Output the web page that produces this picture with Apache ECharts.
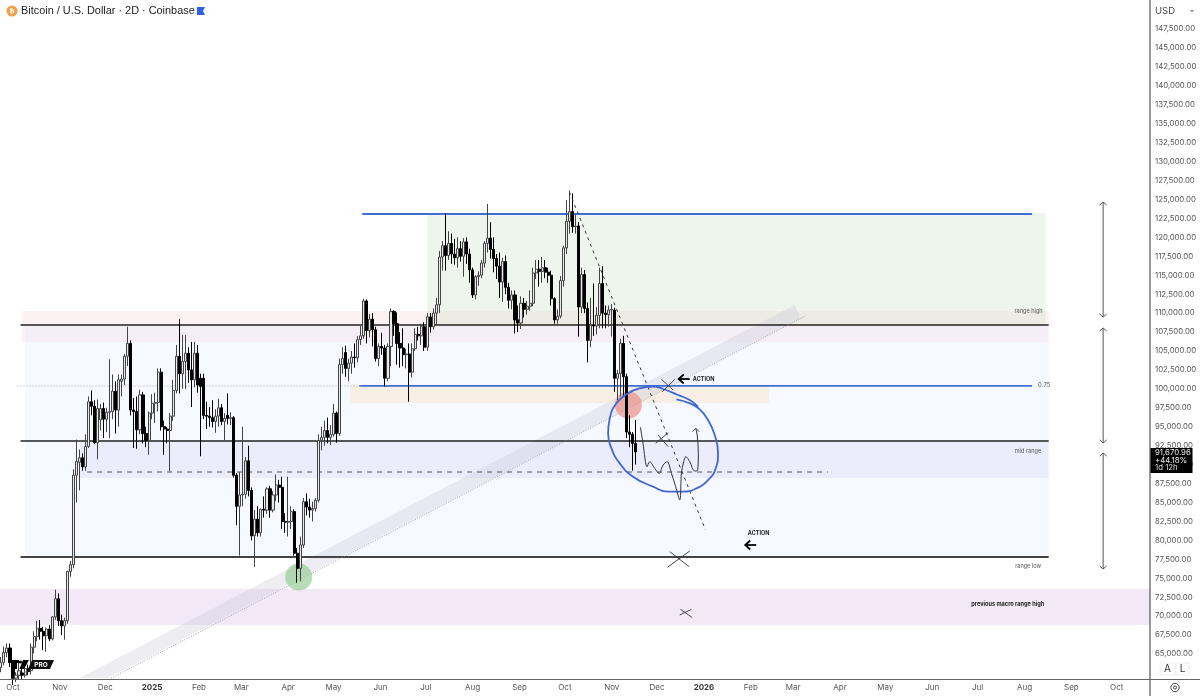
<!DOCTYPE html>
<html>
<head>
<meta charset="utf-8">
<title>BTC 2D</title>
<script src="https://cdn.jsdelivr.net/npm/echarts@6/dist/echarts.min.js"></script>
<style>
  html, body { margin: 0; padding: 0; background: #fff; }
  #main { width: 1200px; height: 696px; }
</style>
</head>
<body>
<div id="main"></div>
<script>
// candles, 2 days apart, in thousands of USD
const firstCandle = '2024-09-23';
const opens = [
  63.2,63.9,65.2,65.8,63.9,61.8,62.2,62.5,62.2,63.1,
  62.8,65.9,67.3,68.4,68.0,67.4,68.3,67.0,69.9,72.3,
  69.4,68.7,69.4,75.9,76.8,88.6,90.3,90.9,89.7,92.4,
  98.3,97.7,92.9,95.9,97.4,96.0,96.9,97.0,99.7,97.2,
  101.0,101.3,104.3,106.0,97.2,97.0,94.6,99.2,94.1,93.2,
  96.8,98.1,98.2,102.2,95.0,94.7,94.5,96.4,99.8,104.3,
  102.0,103.6,104.7,102.5,101.2,104.7,101.4,101.4,96.5,96.4,
  96.2,95.7,96.4,97.5,95.7,96.5,96.1,96.2,88.6,84.5,
  86.0,86.1,90.5,86.6,80.6,82.8,81.0,84.1,84.0,86.8,
  84.0,86.0,87.3,87.0,82.5,82.4,82.5,83.8,78.3,76.3,
  79.4,85.1,84.4,84.0,84.2,85.3,93.2,93.6,94.5,93.6,
  94.0,96.8,94.1,103.2,104.8,102.7,103.4,104.2,104.1,106.5,
  107.0,111.6,107.7,109.2,107.8,104.0,105.6,105.4,101.4,105.6,
  110.2,108.6,106.0,105.4,104.5,104.6,102.2,105.3,107.2,107.0,
  108.2,105.5,109.5,108.2,110.0,111.1,117.4,118.9,117.6,119.2,
  117.8,117.3,118.5,117.5,119.4,117.8,115.7,112.4,114.8,115.0,
  116.6,119.2,119.9,118.4,117.2,116.2,114.1,116.8,113.4,111.7,
  112.4,109.1,108.7,111.3,110.5,110.9,111.3,115.3,115.8,115.5,
  116.0,115.4,115.0,111.9,109.1,109.6,114.3,118.6,122.1,123.4,
  121.4,121.5,110.8,115.1,110.6,106.4,108.4,108.3,109.7,113.9,
  110.0,109.8,110.4,110.4,101.4,102.0,106.0,101.6,94.3,94.0,
  92.8
];
const closes = [
  63.9,65.2,65.8,63.9,61.8,62.2,62.8,62.2,63.1,62.7,
  65.9,67.3,68.4,68.0,67.4,68.3,67.0,69.9,72.3,69.4,
  68.7,69.4,75.9,76.8,88.6,90.4,90.9,89.7,92.4,98.3,
  97.7,92.9,97.4,97.4,96.0,96.9,97.0,99.7,97.2,101.2,
  101.3,104.3,106.0,97.2,97.0,94.6,99.2,94.1,93.2,96.8,
  98.1,98.2,102.2,95.0,94.7,94.5,96.4,99.8,104.3,102.0,
  103.6,104.7,102.5,101.2,104.7,100.5,100.3,96.5,96.4,96.2,
  95.7,96.4,97.5,95.7,96.1,96.1,96.2,88.6,84.5,86.0,
  86.1,90.5,86.6,80.6,82.8,81.0,84.1,84.0,86.8,84.0,
  86.0,87.3,87.0,82.5,82.4,82.5,83.8,78.3,76.3,79.4,
  85.1,84.4,84.0,84.2,85.3,93.2,93.6,94.5,93.6,94.0,
  96.8,94.1,103.2,104.0,102.7,103.4,104.2,104.1,106.5,107.0,
  111.6,107.7,109.2,107.8,104.0,105.6,105.4,101.4,105.6,110.2,
  108.6,106.0,105.4,104.5,104.6,102.2,105.3,107.2,107.0,108.2,
  105.5,109.5,108.2,110.0,111.1,117.4,118.9,117.6,119.2,117.8,
  117.3,118.5,117.5,119.4,117.8,115.7,112.4,114.8,115.0,116.6,
  119.2,119.9,118.4,117.2,116.2,114.1,116.8,113.4,111.7,112.4,
  109.1,108.7,111.3,110.5,110.9,111.3,115.3,115.8,115.5,116.0,
  115.4,115.0,111.9,109.1,109.6,114.3,118.6,122.1,123.4,121.4,
  121.5,110.8,115.1,110.6,106.4,108.4,108.3,109.7,113.9,110.0,
  109.8,110.4,110.5,101.4,102.0,106.0,101.6,94.3,94.0,92.8,
  91.67
];
const lows = [
  62.6,63.5,64.6,63.3,60.9,61.3,61.7,61.7,61.9,62.2,
  62.3,65.1,66.7,66.9,65.5,65.3,66.7,66.8,69.5,68.7,
  67.5,66.9,69.0,75.2,76.3,85.0,86.6,89.2,89.2,92.2,
  96.5,92.7,90.7,94.5,93.5,94.3,93.5,96.0,94.1,95.0,
  99.0,100.5,103.0,96.5,92.2,92.1,94.0,92.8,92.3,91.3,
  96.0,95.5,97.0,94.5,91.3,92.8,89.1,95.8,99.4,99.4,
  100.0,100.0,100.8,97.6,100.2,99.5,91.1,96.0,94.7,95.0,
  94.9,94.2,95.0,95.2,93.2,95.3,95.2,88.3,82.0,78.0,
  84.5,85.5,85.8,80.0,76.5,80.5,80.5,83.0,83.5,83.0,
  83.7,85.2,85.0,81.5,81.0,80.5,81.5,78.0,74.4,74.6,
  79.0,83.3,83.0,82.5,83.8,85.0,91.9,92.5,92.8,92.6,
  93.7,92.9,93.8,102.0,101.6,101.0,102.0,102.8,103.5,105.8,
  106.6,106.0,106.8,105.6,103.6,103.0,104.5,100.3,101.0,103.0,
  107.0,103.2,102.8,103.0,102.7,98.3,101.5,105.0,106.4,105.8,
  105.0,105.0,107.4,107.8,108.5,110.0,115.6,115.6,117.0,116.5,
  116.4,116.0,116.8,114.8,116.5,114.0,112.0,111.8,113.6,114.6,
  116.0,118.0,117.2,115.4,114.5,112.0,111.5,112.5,110.6,110.5,
  107.3,107.5,107.9,109.4,109.8,110.3,110.9,114.5,113.5,114.0,
  114.6,114.0,111.0,108.6,108.6,109.3,113.5,117.8,120.5,120.6,
  120.5,106.9,110.0,110.0,103.5,105.5,107.0,107.2,108.0,108.0,
  108.0,108.2,106.9,99.6,98.5,99.0,99.0,93.5,92.3,89.2,
  90.0
];
const highs = [
  64.6,66.0,66.4,66.4,64.2,62.6,64.0,63.2,63.4,63.6,
  66.4,68.0,69.4,69.5,68.6,68.5,68.8,70.0,73.5,73.0,
  70.2,69.8,76.0,77.3,89.4,93.3,92.0,91.5,94.0,99.0,
  99.8,98.5,98.6,98.0,98.2,97.5,103.9,101.9,101.0,101.9,
  101.9,104.6,108.2,106.4,98.8,99.0,99.9,99.6,95.0,97.0,
  99.3,99.5,102.7,102.7,95.8,95.0,96.8,101.2,105.8,109.2,
  107.1,107.1,105.5,106.2,106.2,105.8,102.0,102.0,98.3,97.6,
  98.5,97.3,98.7,98.0,96.8,99.4,96.9,96.4,88.9,89.0,
  95.0,91.0,92.5,87.0,84.0,84.5,84.2,85.8,87.0,87.2,
  86.5,88.7,88.0,88.4,83.6,88.4,84.5,84.1,79.0,80.5,
  85.6,86.2,85.5,85.1,85.6,94.0,95.0,95.8,96.2,95.2,
  98.0,97.0,104.0,105.5,105.7,104.0,105.0,106.0,107.0,108.3,
  111.9,111.8,109.9,110.0,108.2,106.0,107.4,105.8,106.0,110.6,
  110.4,110.1,107.5,108.0,105.3,106.0,106.0,108.0,108.2,108.6,
  108.8,110.0,110.0,110.6,112.0,118.2,119.5,123.2,120.8,120.5,
  119.8,120.0,119.5,119.9,120.0,118.5,116.0,115.0,115.5,117.0,
  119.5,124.4,122.0,120.0,117.8,118.0,117.3,117.6,114.0,113.0,
  113.0,111.0,112.2,112.0,111.6,113.0,116.0,117.0,117.0,117.4,
  117.0,116.0,115.6,112.1,110.5,114.9,118.9,124.9,126.2,125.8,
  123.0,122.0,116.0,115.7,111.4,112.0,113.9,110.8,116.0,116.2,
  111.0,111.0,111.2,110.7,102.5,106.6,107.0,102.0,96.5,94.3,
  95.9
];

// axis labels
const priceTicks = [
  147500,145000,142500,140000,137500,135000,132500,130000,127500,125000,
  122500,120000,117500,115000,112500,110000,107500,105000,102500,100000,
  97500,95000,92500,90000,87500,85000,82500,80000,77500,75000,
  72500,70000,67500,65000
];
const monthTicks = [
  '2024-10-01','2024-11-01','2024-12-01','2025-01-01','2025-02-01','2025-03-01','2025-04-01',
  '2025-05-01','2025-06-01','2025-07-01','2025-08-01','2025-09-01','2025-10-01','2025-11-01',
  '2025-12-01','2026-01-01','2026-02-01','2026-03-01','2026-04-01','2026-05-01','2026-06-01',
  '2026-07-01','2026-08-01','2026-09-01','2026-10-01'
];
const monthLabels = [
  'Oct','Nov','Dec','2025','Feb','Mar','Apr','May','Jun','Jul','Aug','Sep','Oct','Nov',
  'Dec','2026','Feb','Mar','Apr','May','Jun','Jul','Aug','Sep','Oct'
];

// shaded zones
const zoneNames = ['pink', 'blue', 'green', 'beige', 'mid', 'macro'];
const zoneStarts = ['2024-10-07','2024-10-09','2025-07-02','2025-05-12','2024-11-14','2024-09-01'];
const zoneEnds = ['2026-08-17','2026-08-17','2026-08-15','2026-02-13','2026-08-17','2026-12-01'];
const zoneTops = [110276,108296,123212,100376,93116,73580];
const zoneBottoms = [106184,77804,108428,98132,88232,68828];

// ruled lines
const blackLevels = [108428, 93116, 77804];
const blackStart = '2024-10-06';
const blackEnd = '2026-08-17';
const blueLevels = [123080, 100400];
const blueStarts = ['2025-05-20', '2025-05-18'];
const blueEnd = '2026-08-06';
const supportLevel = 89024;
const supportDates = ['2024-11-19', '2026-03-24'];
const dottedLevel = 100376;
const dottedDates = ['2024-10-04', '2025-05-19'];
const fallingLine = [['2025-10-04', 125984], ['2026-01-02', 81368]];
const risingLine = [['2024-12-05', 61832], ['2026-03-09', 109616]];
const risingBand = [['2024-11-14', 61832], ['2024-12-03', 61832], ['2026-03-06', 109352], ['2026-03-02', 111068]];

// highlighted touches
const touchDates = ['2025-11-12', '2025-04-08'];
const touchPrices = [97868, 75164];

// hand drawn marks: days after 2025-11-01, price
const sketchOrigin = '2025-11-01';
const blueLoop = [
  [42.8,98616],[51.6,98088],[58.2,97296],[63.7,95888],[68.1,93908],[70.3,91488],[68.8,89508],
  [63.7,87968],[56.0,86868],[47.2,86428],[37.3,86428],[27.4,87088],[14.1,88408],[5.3,90168],
  [-0.2,92148],[-2.4,94128],[-1.3,96108],[3.1,98088],[10.8,99408],[18.5,100068],[27.3,100288],
  [34.1,99980],[43.9,99188],[51.6,98528],[57.1,97648]
];
const scribble = [
  [19.0,94920],[20.7,92808],[23.4,89728],[25.1,90388],[28.4,89508],[31.3,88848],[34.0,89948],
  [36.6,90388],[39.5,88848],[42.3,87088],[45.0,85328],[46.1,88848],[47.6,90388],[49.0,91048],
  [51.6,90388],[54.9,89156],[56.9,89288],[57.3,91488],[56.5,93908],[55.6,94788]
];
const scribbleHead = [[53.4,94348],[55.6,94788],[57.8,94348]];
const crosses = [
  [[32.9,101256],[40.6,99848]], [[33.5,99628],[41.7,101256]],
  [[29.1,92808],[37.3,94216]], [[30.7,93908],[37.3,92368]],
  [[36.8,76440],[51.6,78596]], [[38.4,78508],[51.2,76528]],
  [[45.0,70148],[52.7,70896]], [[45.4,70896],[53.1,69840]]
];
const actionArrows = [[47.6,101300],[91.6,79388]];
const actionTexts = [[53.6,101300],[90.0,80972]];

// range arrows on the right
const rangeArrowDate = '2026-09-22';
const rangeArrowTops = [124664, 108032, 91532];
const rangeArrowBottoms = [109484, 92852, 76220];

// small notes
const noteTexts = ['range high', 'mid range', 'range low', 'previous macro range high'];
const noteDates = ['2026-08-13', '2026-08-12', '2026-08-12', '2026-08-14'];
const notePrices = [110276, 91796, 76616, 71600];
const fibText = '0.75';
const fibDate = '2026-08-10';
const fibPrice = 100508;

const DAY = 86400000;
const ms = (d) => Date.parse(d);
const sketchMs = (d) => ms(sketchOrigin) + d * DAY;
const sketchPts = (pts) => pts.map((p) => [sketchMs(p[0]), p[1]]);

const candleRows = opens.map((o, i) => [
  ms(firstCandle) + i * 2 * DAY, o * 1000, closes[i] * 1000, lows[i] * 1000, highs[i] * 1000
]);

const zoneColors = {
  pink: 'rgba(246,206,212,0.28)',
  blue: 'rgba(222,234,255,0.28)',
  green: 'rgba(208,228,204,0.36)',
  beige: 'rgba(248,232,206,0.55)',
  mid: 'rgba(222,218,246,0.38)',
  macro: 'rgba(243,233,246,1)'
};

const plainLine = (name, data, color, width, type, z, smooth) => ({
  name, type: 'line', data, z, smooth: smooth || false,
  symbol: 'none', silent: true, animation: false,
  lineStyle: { color, width, type: type || 'solid' }
});

const chart = echarts.init(document.getElementById('main'), null, { renderer: 'canvas' });

const option = {
  animation: false,
  backgroundColor: '#fff',
  title: {
    text: 'Bitcoin / U.S. Dollar · 2D · Coinbase',
    left: 21, top: 5, padding: 0,
    textStyle: { fontFamily: 'Liberation Sans', fontSize: 10.9, fontWeight: 400, color: '#1c1c1e' }
  },
  grid: { left: 0, right: 50, top: 0, bottom: 16, outerBoundsMode: 'none' },
  xAxis: {
    type: 'value',
    scale: true,
    min: Date.parse('2024-09-22T10:00:00Z'),
    max: Date.parse('2026-10-23T00:00:00Z'),
    axisLine: { show: false },
    axisTick: { show: false },
    splitLine: { show: false },
    axisLabel: {
      customValues: monthTicks.map(ms),
      margin: 4,
      fontFamily: 'Inter', fontSize: 8, color: '#555',
      hideOverlap: false,
      formatter: (v) => {
        const label = monthLabels[monthTicks.map(ms).indexOf(v)];
        return /^20/.test(label) ? '{b|' + label + '}' : label;
      },
      rich: { b: { fontFamily: 'Inter', fontSize: 8, fontWeight: 700, color: '#333' } }
    }
  },
  yAxis: {
    type: 'value',
    position: 'right',
    min: 61570,
    max: 151328,
    scale: true,
    axisLine: { show: false },
    axisTick: { show: false },
    splitLine: { show: false },
    axisLabel: {
      customValues: priceTicks,
      margin: 5,
      fontFamily: 'Inter', fontSize: 7.8, color: '#555',
      formatter: (v) => v.toLocaleString('en-US', { minimumFractionDigits: 2, maximumFractionDigits: 2 })
    }
  },
  series: [
    {
      name: 'zones', type: 'custom', z: 1, silent: true, clip: true,
      data: zoneNames.map((n, i) => [ms(zoneStarts[i]), ms(zoneEnds[i]), zoneTops[i], zoneBottoms[i], i]),
      encode: { x: [0, 1], y: [2, 3] },
      renderItem: (params, api) => {
        const a = api.coord([api.value(0), api.value(2)]);
        const b = api.coord([api.value(1), api.value(3)]);
        return {
          type: 'rect',
          shape: { x: a[0], y: a[1], width: b[0] - a[0], height: b[1] - a[1] },
          style: { fill: zoneColors[zoneNames[api.value(4)]] }
        };
      }
    },
    {
      name: 'band', type: 'custom', z: 2, silent: true, clip: true,
      data: [risingBand.map((p) => p[1]).concat(risingBand.map((p) => ms(p[0])))],
      encode: { x: [4, 5, 6, 7], y: [0, 1, 2, 3] },
      renderItem: (params, api) => ({
        type: 'polygon',
        shape: { points: [0, 1, 2, 3].map((i) => api.coord([api.value(i + 4), api.value(i)])) },
        style: { fill: 'rgba(196,196,212,0.3)' }
      })
    },
    {
      name: 'touches', type: 'scatter', z: 3, silent: true, symbolSize: 27,
      data: touchDates.map((d, i) => ({
        value: [ms(d), touchPrices[i]],
        itemStyle: { color: i === 0 ? 'rgba(236,140,132,0.85)' : 'rgba(135,198,135,0.75)' }
      }))
    },
    plainLine('range high', [[ms(blackStart), blackLevels[0]], [ms(blackEnd), blackLevels[0]]], '#222', 1.6, 'solid', 3),
    plainLine('mid', [[ms(blackStart), blackLevels[1]], [ms(blackEnd), blackLevels[1]]], '#222', 1.6, 'solid', 3),
    plainLine('range low', [[ms(blackStart), blackLevels[2]], [ms(blackEnd), blackLevels[2]]], '#444', 2, 'solid', 3),
    plainLine('top', [[ms(blueStarts[0]), blueLevels[0]], [ms(blueEnd), blueLevels[0]]], '#3f6fd6', 2, 'solid', 3),
    plainLine('fib', [[ms(blueStarts[1]), blueLevels[1]], [ms(blueEnd), blueLevels[1]]], '#3f6fd6', 1.6, 'solid', 3),
    plainLine('support', supportDates.map((d) => [ms(d), supportLevel]), '#555', 1, [5, 5], 3),
    plainLine('dotted', dottedDates.map((d) => [ms(d), dottedLevel]), '#aaa', 1, [1, 2], 3),
    plainLine('rising', risingLine.map((p) => [ms(p[0]), p[1]]), '#888', 0.8, [1, 1.5], 3),
    {
      name: 'BTC', type: 'candlestick', z: 4, silent: true,
      barWidth: 2.6,
      data: candleRows,
      encode: { x: 0, y: [1, 2, 3, 4] },
      itemStyle: { color: '#e9e9e9', color0: '#000', borderColor: '#444', borderColor0: '#000', borderWidth: 1 }
    },
    plainLine('falling', fallingLine.map((p) => [ms(p[0]), p[1]]), '#333', 1, [3, 4], 5),
    plainLine('loop', sketchPts(blueLoop), '#3f66d3', 1.8, 'solid', 6, 0.5),
    plainLine('scribble', sketchPts(scribble), '#333', 1, 'solid', 6, 0.35),
    plainLine('scribble head', sketchPts(scribbleHead), '#333', 0.9, 'solid', 6),
    ...crosses.map((c, i) => plainLine('cross' + i, sketchPts(c), '#333', 0.9, 'solid', 6)),
    {
      name: 'action arrows', type: 'custom', z: 6, silent: true,
      data: sketchPts(actionArrows),
      encode: { x: 0, y: 1 },
      renderItem: (params, api) => {
        const p = api.coord([api.value(0), api.value(1)]);
        return {
          type: 'group',
          children: [
            { type: 'line', shape: { x1: p[0] - 5, y1: p[1], x2: p[0] + 6, y2: p[1] }, style: { stroke: '#000', lineWidth: 1.8 } },
            { type: 'polyline', shape: { points: [[p[0], p[1] - 4.5], [p[0] - 5, p[1]], [p[0], p[1] + 4.5]] }, style: { stroke: '#000', lineWidth: 1.8, fill: 'none' } }
          ]
        };
      }
    },
    {
      name: 'action text', type: 'custom', z: 6, silent: true,
      data: sketchPts(actionTexts),
      encode: { x: 0, y: 1 },
      renderItem: (params, api) => {
        const p = api.coord([api.value(0), api.value(1)]);
        return {
          type: 'text',
          style: { text: 'ACTION', x: p[0], y: p[1], fill: '#222', font: '700 5.5px Inter', textAlign: 'left', textVerticalAlign: 'middle' }
        };
      }
    },
    {
      name: 'range arrows', type: 'custom', z: 5, silent: true,
      data: rangeArrowTops.map((t, i) => [ms(rangeArrowDate), t, rangeArrowBottoms[i]]),
      encode: { x: 0, y: [1, 2] },
      renderItem: (params, api) => {
        const a = api.coord([api.value(0), api.value(1)]);
        const b = api.coord([api.value(0), api.value(2)]);
        const stroke = { stroke: '#555', lineWidth: 1, fill: 'none' };
        return {
          type: 'group',
          children: [
            { type: 'line', shape: { x1: a[0], y1: a[1], x2: b[0], y2: b[1] }, style: stroke },
            { type: 'polyline', shape: { points: [[a[0] - 3.5, a[1] + 3], [a[0], a[1]], [a[0] + 3.5, a[1] + 3]] }, style: stroke },
            { type: 'polyline', shape: { points: [[b[0] - 3.5, b[1] - 3], [b[0], b[1]], [b[0] + 3.5, b[1] - 3]] }, style: stroke }
          ]
        };
      }
    },
    {
      name: 'notes', type: 'custom', z: 6, silent: true,
      data: noteTexts.map((t, i) => [ms(noteDates[i]), notePrices[i], i]),
      encode: { x: 0, y: 1 },
      renderItem: (params, api) => {
        const p = api.coord([api.value(0), api.value(1)]);
        const i = api.value(2);
        return {
          type: 'text',
          style: {
            text: noteTexts[i], x: p[0], y: p[1], textAlign: 'right', textVerticalAlign: 'middle',
            fill: i === 3 ? '#222' : '#555',
            font: (i === 3 ? '700 ' : '400 ') + '5.6px Inter'
          }
        };
      }
    },
    {
      name: 'fib note', type: 'custom', z: 6, silent: true,
      data: [[ms(fibDate), fibPrice]],
      encode: { x: 0, y: 1 },
      renderItem: (params, api) => {
        const p = api.coord([api.value(0), api.value(1)]);
        return {
          type: 'text',
          style: { text: fibText, x: p[0], y: p[1], textAlign: 'left', textVerticalAlign: 'middle', fill: '#555', font: '400 6px Inter' }
        };
      }
    }
  ],
  // chart chrome: coin icon, flag, logo, price tag, buttons
  graphic: [
    { type: 'circle', z: 100, shape: { cx: 12, cy: 11, r: 5.5 }, style: { fill: '#ee9f4a' } },
    { type: 'text', z: 101, style: { text: '₿', x: 12, y: 11, fill: '#fff', font: '700 7px "DejaVu Sans"', textAlign: 'center', textVerticalAlign: 'middle' } },
    { type: 'polygon', z: 100, shape: { points: [[197, 7], [205, 7], [203, 11], [205, 15], [197, 15]] }, style: { fill: '#2f66e0' } },

    { type: 'rect', z: 100, shape: { x: 8, y: 660, width: 11, height: 3 }, style: { fill: '#000' } },
    { type: 'rect', z: 100, shape: { x: 13, y: 660, width: 4, height: 9 }, style: { fill: '#000' } },
    { type: 'circle', z: 100, shape: { cx: 20.5, cy: 662, r: 1.6 }, style: { fill: '#000' } },
    { type: 'polygon', z: 100, shape: { points: [[23, 660], [29, 660], [24, 669], [19.5, 669]] }, style: { fill: '#000' } },
    { type: 'polygon', z: 100, shape: { points: [[32, 660], [54, 660], [50, 669], [28, 669]] }, style: { fill: '#111' } },
    { type: 'text', z: 101, style: { text: 'PRO', x: 41, y: 664.7, fill: '#fff', font: '700 6.5px Inter', textAlign: 'center', textVerticalAlign: 'middle' } },

    { type: 'line', z: 100, shape: { x1: 1150, y1: 0, x2: 1150, y2: 696 }, style: { stroke: '#333', lineWidth: 1 } },
    { type: 'line', z: 100, shape: { x1: 0, y1: 679.5, x2: 1200, y2: 679.5 }, style: { stroke: '#666', lineWidth: 1 } },

    { type: 'text', z: 101, style: { text: 'USD', x: 1155, y: 11, fill: '#444', font: '400 9.5px Inter', textVerticalAlign: 'middle' } },
    { type: 'polyline', z: 101, shape: { points: [[1190.5, 10], [1192, 11.5], [1193.5, 10]] }, style: { stroke: '#444', lineWidth: 1, fill: 'none' } },

    { type: 'rect', z: 100, shape: { x: 1150.5, y: 448, width: 42, height: 25 }, style: { fill: '#000' } },
    { type: 'text', z: 101, style: { text: '91,670.96', x: 1155, y: 453, fill: '#eee', font: '400 7.8px Inter', textVerticalAlign: 'middle' } },
    { type: 'text', z: 101, style: { text: '+44.18%', x: 1155, y: 460.5, fill: '#eee', font: '400 7.8px Inter', textVerticalAlign: 'middle' } },
    { type: 'text', z: 101, style: { text: '1d 12h', x: 1155, y: 468, fill: '#ddd', font: '400 7.8px Inter', textVerticalAlign: 'middle' } },

    { type: 'rect', z: 100, shape: { x: 1160, y: 663, width: 15, height: 12 }, style: { fill: '#fff', stroke: '#eee', lineWidth: 1 } },
    { type: 'rect', z: 100, shape: { x: 1176, y: 663, width: 13, height: 12 }, style: { fill: '#fff', stroke: '#eee', lineWidth: 1 } },
    { type: 'text', z: 101, style: { text: 'A', x: 1167.5, y: 669, fill: '#333', font: '400 10px Inter', textAlign: 'center', textVerticalAlign: 'middle' } },
    { type: 'text', z: 101, style: { text: 'L', x: 1182.5, y: 669, fill: '#333', font: '400 10px Inter', textAlign: 'center', textVerticalAlign: 'middle' } },
    { type: 'circle', z: 101, shape: { cx: 1175, cy: 687.5, r: 4.2 }, style: { fill: 'none', stroke: '#444', lineWidth: 1 } },
    { type: 'circle', z: 101, shape: { cx: 1175, cy: 687.5, r: 1.5 }, style: { fill: 'none', stroke: '#444', lineWidth: 1 } }
  ]
};

chart.setOption(option);
window.addEventListener('resize', chart.resize);
</script>
</body>
</html>
